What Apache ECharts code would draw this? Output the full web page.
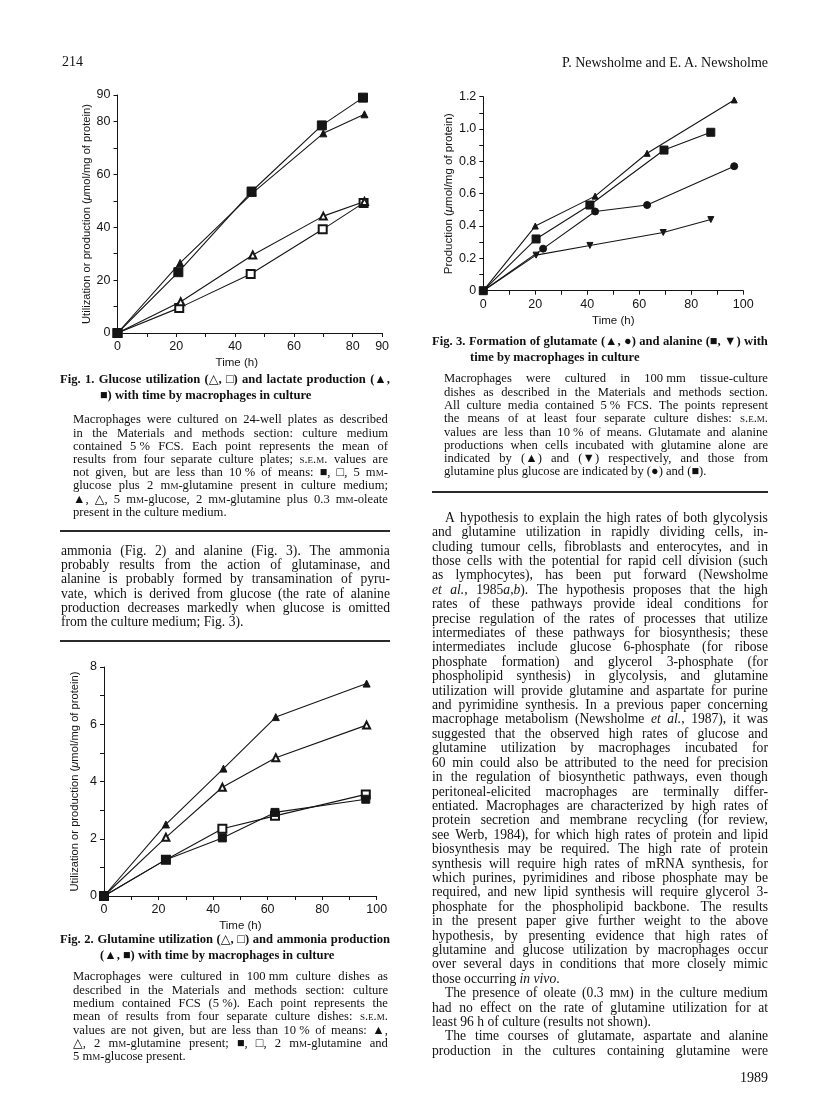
<!DOCTYPE html>
<html>
<head>
<meta charset="utf-8">
<script src="https://cdn.jsdelivr.net/npm/echarts/dist/echarts.min.js"></script>
<style>
  html, body { margin: 0; padding: 0; background: #fff; }
  #page { position: relative; width: 816px; height: 1103px; overflow: hidden; background: #fff; }
  #chart { position: absolute; left: 0; top: 0; width: 816px; height: 1103px; }
  .blk { position: absolute; color: #111; font-family: "Liberation Serif", "DejaVu Serif", serif; z-index: 2; }
  .blk .ln { white-space: nowrap; }
  .blk .jl { display: flex; justify-content: space-between; white-space: nowrap; }
  .cap { font-size: 12.6px; }
  .capt { font-size: 12.6px; font-weight: bold; }
  .main { font-size: 13.6px; }
  .hdr { font-size: 14px; }
  sc { font-variant: small-caps; }
  .rule { position: absolute; height: 1.6px; background: #2a2a2a; z-index: 2; }
</style>
</head>
<body>
<div id="page">
  <div id="chart"></div>
</div>
<script>
// ---- data: [time (h), value] ----
// Fig. 1: glucose utilization / lactate production (umol/mg protein)
const fig1LactateGlc    = [[0, 0], [20.7, 23], [45.6, 53.5], [69.5, 78.5], [83.5, 89]];     // filled square
const fig1LactateOleate = [[0, 0], [21.3, 26.5], [46, 53], [70, 75.5], [84, 82.7]];         // filled triangle
const fig1GlucoseOleate = [[0, 0], [21.5, 11.8], [46, 29.5], [70, 44.2], [84, 49.7]];       // open triangle
const fig1GlucoseGlc    = [[0, 0], [21, 9.5], [45.3, 22.3], [69.8, 39.2], [83.7, 49.2]];    // open square
// Fig. 2: glutamine utilization / ammonia production
const fig2AmmoniaGln = [[0, 0], [22.7, 2.5], [43.8, 4.45], [63, 6.25], [96.3, 7.42]];       // filled triangle
const fig2GlnUseGln  = [[0, 0], [22.7, 2.05], [43.4, 3.8], [63, 4.83], [96.3, 5.97]];       // open triangle
const fig2AmmoniaGlc = [[0, 0], [22.7, 1.27], [43.4, 2.03], [62.7, 2.92], [96, 3.38]];      // filled square
const fig2GlnUseGlc  = [[0, 0], [22.7, 1.27], [43.4, 2.35], [62.7, 2.8], [96, 3.55]];       // open square
// Fig. 3: glutamate / alanine production
const fig3GluGln = [[0, 0], [20, 0.40], [43, 0.585], [63, 0.85], [96.5, 1.18]];             // triangle
const fig3AlaGlc = [[0, 0], [20.3, 0.32], [41, 0.53], [69.5, 0.87], [87.5, 0.98]];          // square
const fig3GluGlc = [[0, 0], [23, 0.26], [43, 0.49], [63, 0.53], [96.5, 0.77]];              // circle
const fig3AlaGln = [[0, 0], [20.3, 0.22], [41, 0.28], [69.2, 0.36], [87.5, 0.44]];          // inverted triangle

// tick labels that are printed
const fig1XTicks = [0, 20, 40, 60, 80, 90];
const fig1YTicks = [0, 20, 40, 60, 80, 90];
const fig2XTicks = [0, 20, 40, 60, 80, 100];
const fig2YTicks = [0, 2, 4, 6, 8];
const fig3XTicks = [0, 20, 40, 60, 80, 100];
const fig3YTicks = [0, 0.2, 0.4, 0.6, 0.8, 1.0, 1.2];

const INK = '#151515';
const SANS = '"Liberation Sans", Arial, sans-serif';
const yName = 'Utilization or production ({i|μ}mol/mg of protein)';

function pick(ticks, fmt) {
  return function (v) {
    for (const t of ticks) if (Math.abs(t - v) < 1e-6) return fmt ? fmt(t) : String(t);
    return '';
  };
}

function xAx(grid, max, ticks, nameShift) {
  return {
    type: 'value', gridIndex: grid, min: 0, max: max, interval: 10,
    axisLine: { show: true, lineStyle: { color: INK, width: 1 } },
    axisTick: { show: true, length: 4, lineStyle: { color: INK, width: 1 } },
    axisLabel: { color: INK, fontSize: 12.5, fontFamily: SANS, margin: 7, formatter: pick(ticks), showMaxLabel: true, showMinLabel: true },
    splitLine: { show: false },
    name: 'Time (h)', nameLocation: 'middle', nameGap: 24,
    nameTextStyle: { color: INK, fontSize: 11.5, fontFamily: SANS, padding: [0, nameShift || 0, 0, 0] }
  };
}

function yAx(grid, max, step, ticks, name, gap, fs, fmt) {
  return {
    type: 'value', gridIndex: grid, min: 0, max: max, interval: step,
    axisLine: { show: true, lineStyle: { color: INK, width: 1 } },
    axisTick: { show: true, length: 4, lineStyle: { color: INK, width: 1 } },
    axisLabel: { color: INK, fontSize: 12.5, fontFamily: SANS, margin: 7, formatter: pick(ticks, fmt), showMaxLabel: true },
    splitLine: { show: false },
    name: name, nameLocation: 'middle', nameRotate: 90, nameGap: gap,
    nameTextStyle: { color: INK, fontSize: fs, fontFamily: SANS,
      rich: { i: { fontStyle: 'italic', fontSize: fs, fontFamily: SANS, color: INK } } }
  };
}

function ser(idx, data, symbol, size, rotate) {
  return {
    type: 'line', xAxisIndex: idx, yAxisIndex: idx, data: data,
    symbol: symbol, symbolSize: size, symbolRotate: rotate || 0,
    lineStyle: { color: INK, width: 1.1 },
    itemStyle: { color: INK, borderColor: INK, borderWidth: 1 },
    animation: false, silent: true
  };
}

const chart = echarts.init(document.getElementById('chart'), null, { renderer: 'canvas' });
chart.setOption({
  backgroundColor: '#fff',
  animation: false,
  grid: [
    { left: 117.5, top: 95, width: 264.6, height: 238, outerBoundsMode: 'none' },
    { left: 104, top: 667, width: 272.7, height: 229, outerBoundsMode: 'none' },
    { left: 483.3, top: 96.7, width: 260, height: 194, outerBoundsMode: 'none' }
  ],
  xAxis: [
    xAx(0, 90, fig1XTicks, 26),
    xAx(1, 100, fig2XTicks),
    xAx(2, 100, fig3XTicks)
  ],
  yAxis: [
    yAx(0, 90, 10, fig1YTicks, yName, 25, 11.2),
    yAx(1, 8, 1, fig2YTicks, yName, 23.5, 11.2),
    yAx(2, 1.2, 0.1, fig3YTicks, 'Production ({i|μ}mol/mg of protein)', 21, 11.5, function (t) { return t === 0 ? '0' : t.toFixed(1); })
  ],
  series: [
    ser(0, fig1GlucoseGlc, 'emptyRect', 8),
    ser(0, fig1GlucoseOleate, 'emptyTriangle', 7),
    ser(0, fig1LactateOleate, 'triangle', 7),
    ser(0, fig1LactateGlc, 'rect', 9),
    ser(1, fig2GlnUseGlc, 'emptyRect', 8),
    ser(1, fig2AmmoniaGlc, 'rect', 8),
    ser(1, fig2GlnUseGln, 'emptyTriangle', 7),
    ser(1, fig2AmmoniaGln, 'triangle', 7),
    ser(2, fig3AlaGln, 'triangle', 6, 180),
    ser(2, fig3GluGlc, 'circle', 7),
    ser(2, fig3AlaGlc, 'rect', 8),
    ser(2, fig3GluGln, 'triangle', 6)
  ]
});

// ---- page text ----
// '^' at the start: indented line, '$' at the end: not justified
const page = document.getElementById('page');
function block(cls, x, yc, w, lh, lines, indent) {
  const d = document.createElement('div');
  d.className = 'blk ' + cls;
  d.style.left = x + 'px';
  d.style.top = (yc - lh / 2) + 'px';
  d.style.width = w + 'px';
  d.style.lineHeight = lh + 'px';
  lines.forEach(function (s) {
    const ln = document.createElement('div');
    let pad = 0;
    if (s[0] === '^') { pad = indent || 0; s = s.slice(1); }
    let just = true;
    if (s[s.length - 1] === '$') { just = false; s = s.slice(0, -1); }
    ln.style.paddingLeft = pad + 'px';
    if (just) {
      ln.className = 'jl';
      s.split(' ').forEach(function (wd) {
        const sp = document.createElement('span');
        sp.innerHTML = wd;
        ln.appendChild(sp);
      });
    } else {
      ln.className = 'ln';
      ln.innerHTML = s;
    }
    d.appendChild(ln);
  });
  page.appendChild(d);
}
function rule(x, y, w) {
  const r = document.createElement('div');
  r.className = 'rule';
  r.style.left = x + 'px'; r.style.top = y + 'px'; r.style.width = w + 'px';
  page.appendChild(r);
}
function label(cls, txt, x, yc, alignRight) {
  const d = document.createElement('div');
  d.className = 'blk ' + cls;
  d.style.lineHeight = '16px';
  d.style.top = (yc - 8) + 'px';
  d.style.whiteSpace = 'nowrap';
  if (alignRight) d.style.right = (816 - x) + 'px'; else d.style.left = x + 'px';
  d.innerHTML = txt;
  page.appendChild(d);
}

label('hdr', '214', 62, 62);
label('hdr', 'P. Newsholme and E. A. Newsholme', 768, 63, true);

block('capt', 60, 380, 330, 15.5, [
  'Fig. 1. Glucose utilization (△, □) and lactate production (▲,',
  '^■) with time by macrophages in culture$'
], 40);
block('cap', 73, 420, 315, 13.2, [
  'Macrophages were cultured on 24-well plates as described',
  'in the Materials and methods section: culture medium',
  'contained 5&nbsp;% FCS. Each point represents the mean of',
  'results from four separate culture plates; <sc>s.e.m.</sc> values are',
  'not given, but are less than 10&nbsp;% of means: ■, □, 5 m<sc>m</sc>-',
  'glucose plus 2 m<sc>m</sc>-glutamine present in culture medium;',
  '▲, △, 5 m<sc>m</sc>-glucose, 2 m<sc>m</sc>-glutamine plus 0.3 m<sc>m</sc>-oleate',
  'present in the culture medium.$'
]);
rule(60, 530, 330);
block('main', 61, 551, 329, 14.2, [
  'ammonia (Fig. 2) and alanine (Fig. 3). The ammonia',
  'probably results from the action of glutaminase, and',
  'alanine is probably formed by transamination of pyru-',
  'vate, which is derived from glucose (the rate of alanine',
  'production decreases markedly when glucose is omitted',
  'from the culture medium; Fig. 3).$'
]);
rule(60, 640, 330);

block('capt', 60, 940, 330, 15.5, [
  'Fig. 2. Glutamine utilization (△, □) and ammonia production',
  '^(▲, ■) with time by macrophages in culture$'
], 40);
block('cap', 73, 977, 315, 13.3, [
  'Macrophages were cultured in 100&nbsp;mm culture dishes as',
  'described in the Materials and methods section: culture',
  'medium contained FCS (5&nbsp;%). Each point represents the',
  'mean of results from four separate culture dishes: <sc>s.e.m.</sc>',
  'values are not given, but are less than 10&nbsp;% of means: ▲,',
  '△, 2 m<sc>m</sc>-glutamine present; ■, □, 2 m<sc>m</sc>-glutamine and',
  '5 m<sc>m</sc>-glucose present.$'
]);

block('capt', 432, 342, 336, 15.5, [
  'Fig. 3. Formation of glutamate (▲, ●) and alanine (■, ▼) with',
  '^time by macrophages in culture$'
], 38);
block('cap', 444, 379, 324, 13.3, [
  'Macrophages were cultured in 100&nbsp;mm tissue-culture',
  'dishes as described in the Materials and methods section.',
  'All culture media contained 5&nbsp;% FCS. The points represent',
  'the means of at least four separate culture dishes: <sc>s.e.m.</sc>',
  'values are less than 10&nbsp;% of means. Glutamate and alanine',
  'productions when cells incubated with glutamine alone are',
  'indicated by (▲) and (▼) respectively, and those from',
  'glutamine plus glucose are indicated by (●) and (■).$'
]);
rule(432, 491, 336);

block('main', 432, 518, 336, 14.4, [
  '^A hypothesis to explain the high rates of both glycolysis',
  'and glutamine utilization in rapidly dividing cells, in-',
  'cluding tumour cells, fibroblasts and enterocytes, and in',
  'those cells with the potential for rapid cell division (such',
  'as lymphocytes), has been put forward (Newsholme',
  '<i>et</i> <i>al.</i>, 1985<i>a</i>,<i>b</i>). The hypothesis proposes that the high',
  'rates of these pathways provide ideal conditions for',
  'precise regulation of the rates of processes that utilize',
  'intermediates of these pathways for biosynthesis; these',
  'intermediates include glucose 6-phosphate (for ribose',
  'phosphate formation) and glycerol 3-phosphate (for',
  'phospholipid synthesis) in glycolysis, and glutamine',
  'utilization will provide glutamine and aspartate for purine',
  'and pyrimidine synthesis. In a previous paper concerning',
  'macrophage metabolism (Newsholme <i>et</i> <i>al.</i>, 1987), it was',
  'suggested that the observed high rates of glucose and',
  'glutamine utilization by macrophages incubated for',
  '60 min could also be attributed to the need for precision',
  'in the regulation of biosynthetic pathways, even though',
  'peritoneal-elicited macrophages are terminally differ-',
  'entiated. Macrophages are characterized by high rates of',
  'protein secretion and membrane recycling (for review,',
  'see Werb, 1984), for which high rates of protein and lipid',
  'biosynthesis may be required. The high rate of protein',
  'synthesis will require high rates of mRNA synthesis, for',
  'which purines, pyrimidines and ribose phosphate may be',
  'required, and new lipid synthesis will require glycerol 3-',
  'phosphate for the phospholipid backbone. The results',
  'in the present paper give further weight to the above',
  'hypothesis, by presenting evidence that high rates of',
  'glutamine and glucose utilization by macrophages occur',
  'over several days in conditions that more closely mimic',
  'those occurring <i>in vivo</i>.$',
  '^The presence of oleate (0.3 m<sc>m</sc>) in the culture medium',
  'had no effect on the rate of glutamine utilization for at',
  'least 96 h of culture (results not shown).$',
  '^The time courses of glutamate, aspartate and alanine',
  'production in the cultures containing glutamine were'
], 13);

label('hdr', '1989', 768, 1078, true);
</script>
</body>
</html>
